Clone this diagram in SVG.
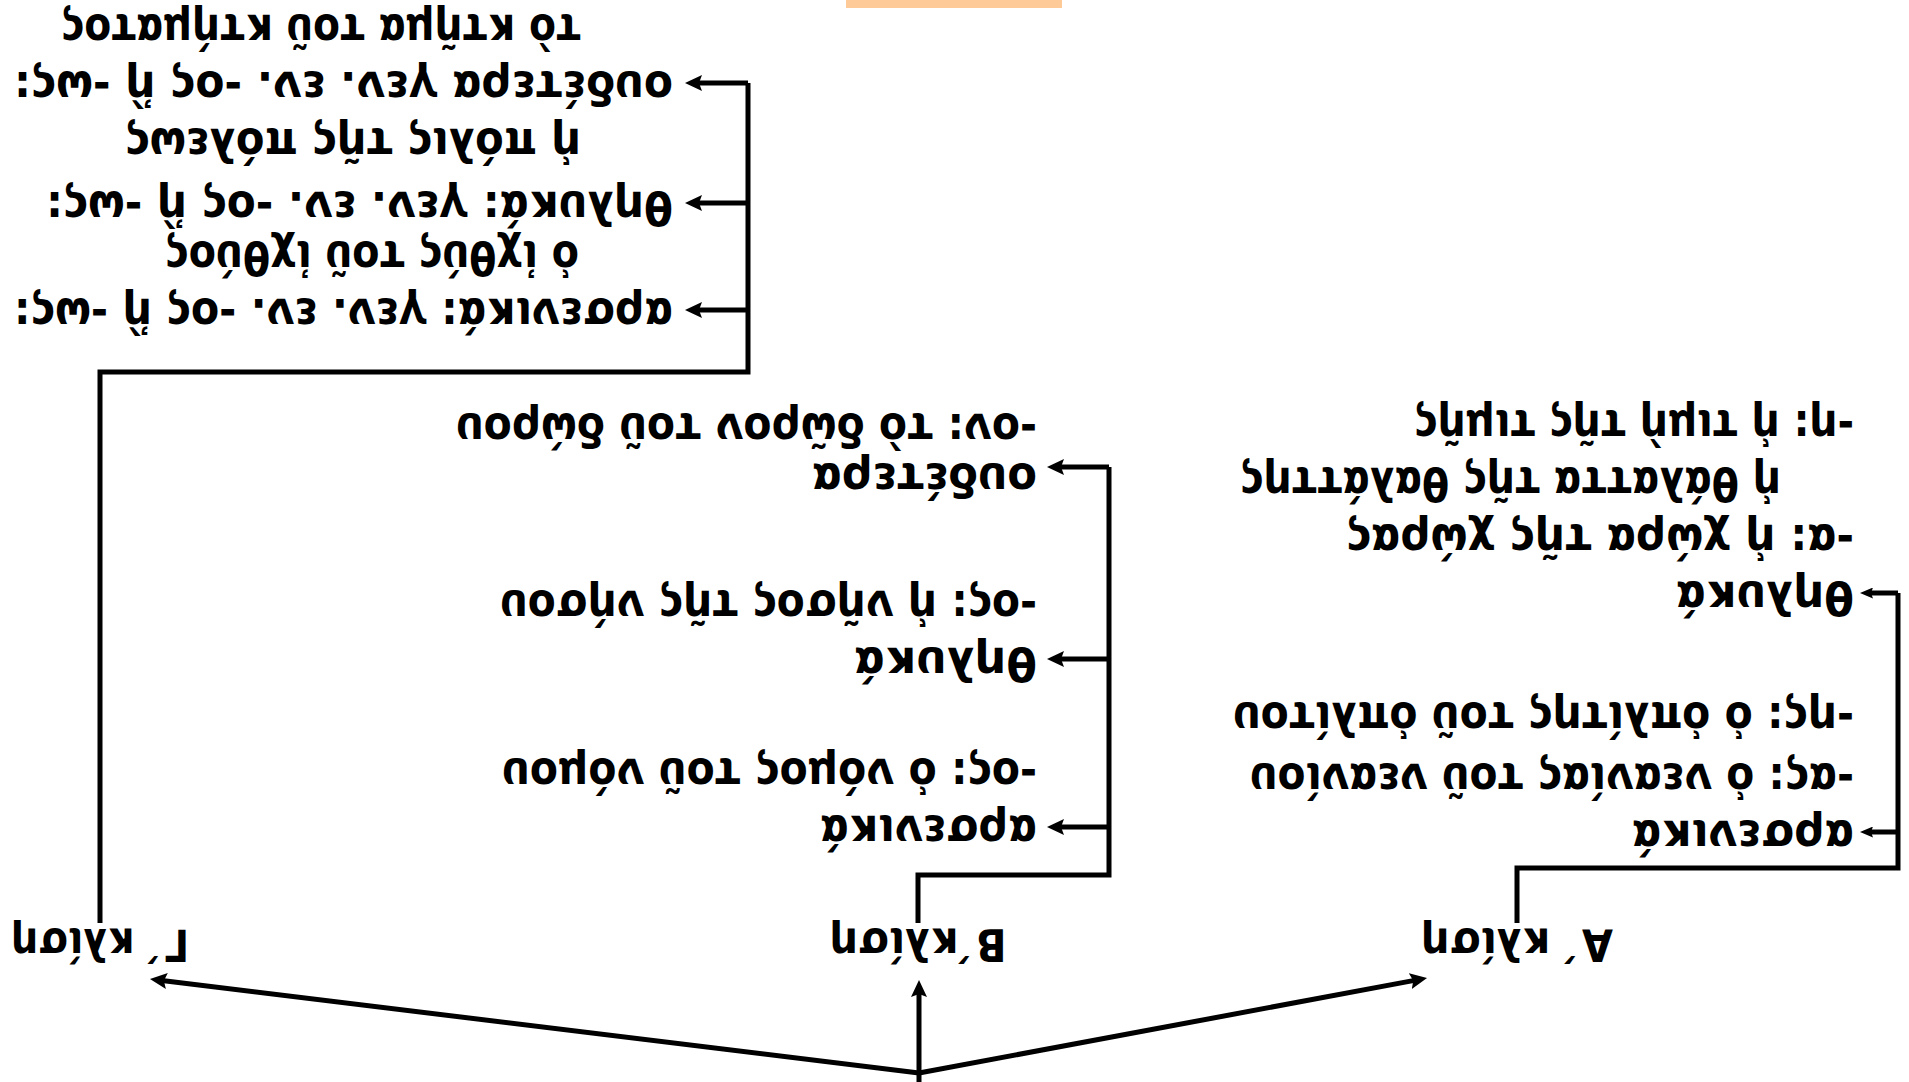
<svg xmlns="http://www.w3.org/2000/svg" width="1909" height="1082" viewBox="0 0 1909 1082">
  <style>
    .t { font-family: 'DejaVu Sans', sans-serif; font-weight: bold; font-size: 47px; fill: #000; }
    .lbl { text-anchor: middle; font-size: 45px; }
    .c { stroke: #000; stroke-width: 5; fill: none; stroke-linejoin: miter; }
  </style>
  <defs>
    <marker id="head" markerUnits="userSpaceOnUse" viewBox="0 0 17 16" markerWidth="17" markerHeight="16" refX="7" refY="8" orient="auto">
      <path d="M0,0 L17,8 L0,16 L3,8 z" fill="#000"/>
    </marker>
    <marker id="headSm" markerUnits="userSpaceOnUse" viewBox="0 0 13 11" markerWidth="13" markerHeight="11" refX="5" refY="5.5" orient="auto">
      <path d="M0,0 L13,5.5 L0,11 L2,5.5 z" fill="#000"/>
    </marker>
  </defs>
  <rect width="1909" height="1082" fill="#fff"/>
  <!-- whole chart is drawn upright, then turned half a revolution -->
  <g transform="rotate(180 954.5 541)">
    <g id="root">
      <rect x="847" y="1074" width="216" height="10" fill="#FECA98"/>
    </g>

    <g id="connectors">
      <!-- from the root to the three declensions -->
      <line class="c" x1="990" y1="9" x2="491.8" y2="102.1" marker-end="url(#head)"/>
      <line class="c" x1="990" y1="0" x2="990" y2="92" marker-end="url(#head)"/>
      <line class="c" x1="990" y1="9" x2="1749.1" y2="101.8" marker-end="url(#head)"/>
      <!-- first declension -->
      <polyline class="c" points="392,159 392,214 11,214 11,489"/>
      <line class="c" x1="11" y1="250" x2="41" y2="250" marker-end="url(#headSm)"/>
      <line class="c" x1="11" y1="489" x2="41" y2="489" marker-end="url(#headSm)"/>
      <!-- second declension -->
      <polyline class="c" points="991,159 991,207 800,207 800,615"/>
      <line class="c" x1="800" y1="255" x2="852" y2="255" marker-end="url(#head)"/>
      <line class="c" x1="800" y1="423" x2="852" y2="423" marker-end="url(#head)"/>
      <line class="c" x1="800" y1="615" x2="852" y2="615" marker-end="url(#head)"/>
      <!-- third declension -->
      <polyline class="c" points="1809,159 1809,710 1161,710 1161,999"/>
      <line class="c" x1="1161" y1="772" x2="1214" y2="772" marker-end="url(#head)"/>
      <line class="c" x1="1161" y1="879" x2="1214" y2="879" marker-end="url(#head)"/>
      <line class="c" x1="1161" y1="999" x2="1214" y2="999" marker-end="url(#head)"/>
    </g>

    <g id="decl-a">
      <text class="t lbl" x="392" y="153" textLength="192" lengthAdjust="spacingAndGlyphs">Α΄ κλίση</text>
    </g>
    <g id="decl-b">
      <text class="t lbl" x="991" y="153" textLength="177" lengthAdjust="spacingAndGlyphs">Β΄κλίση</text>
    </g>
    <g id="decl-c">
      <text class="t lbl" x="1809" y="153" textLength="178" lengthAdjust="spacingAndGlyphs">Γ΄ κλίση</text>
    </g>

    <g id="a-masc">
      <text class="t" x="55" y="261" textLength="222" lengthAdjust="spacingAndGlyphs">αρσενικά</text>
      <text class="t" x="55" y="318" textLength="604" lengthAdjust="spacingAndGlyphs">-ας: ὁ νεανίας τοῦ νεανίου</text>
      <text class="t" x="55" y="379" textLength="621" lengthAdjust="spacingAndGlyphs">-ης: ὁ ὁπλίτης τοῦ ὁπλίτου</text>
    </g>
    <g id="a-fem">
      <text class="t" x="55" y="500" textLength="178" lengthAdjust="spacingAndGlyphs">θηλυκά</text>
      <text class="t" x="55" y="557" textLength="508" lengthAdjust="spacingAndGlyphs">-α: ἡ χώρα τῆς χώρας</text>
      <text class="t" x="128" y="614" textLength="541" lengthAdjust="spacingAndGlyphs">ἡ θάλαττα τῆς θαλάττης</text>
      <text class="t" x="55" y="671" textLength="440" lengthAdjust="spacingAndGlyphs">-η: ἡ τιμὴ τῆς τιμῆς</text>
    </g>

    <g id="b-masc">
      <text class="t" x="872" y="266" textLength="217" lengthAdjust="spacingAndGlyphs">αρσενικά</text>
      <text class="t" x="872" y="323" textLength="535" lengthAdjust="spacingAndGlyphs">-ος: ὁ νόμος τοῦ νόμου</text>
    </g>
    <g id="b-fem">
      <text class="t" x="872" y="434" textLength="183" lengthAdjust="spacingAndGlyphs">θηλυκά</text>
      <text class="t" x="872" y="491" textLength="537" lengthAdjust="spacingAndGlyphs">-ος: ἡ νῆσος τῆς νήσου</text>
    </g>
    <g id="b-neut">
      <text class="t" x="872" y="618" textLength="225" lengthAdjust="spacingAndGlyphs">ουδέτερα</text>
      <text class="t" x="872" y="668" textLength="581" lengthAdjust="spacingAndGlyphs">-ον: τὸ δῶρον τοῦ δώρου</text>
    </g>

    <g id="c-masc">
      <text class="t" x="1236" y="783" textLength="659" lengthAdjust="spacingAndGlyphs">αρσενικά: γεν. εν. -ος ἢ -ως:</text>
      <text class="t" x="1330" y="840" textLength="414" lengthAdjust="spacingAndGlyphs">ὁ ἰχθύς τοῦ ἰχθύος</text>
    </g>
    <g id="c-fem">
      <text class="t" x="1236" y="890" textLength="627" lengthAdjust="spacingAndGlyphs">θηλυκά: γεν. εν. -ος ἢ -ως:</text>
      <text class="t" x="1328" y="953" textLength="456" lengthAdjust="spacingAndGlyphs">ἡ πόλις τῆς πόλεως</text>
    </g>
    <g id="c-neut">
      <text class="t" x="1236" y="1010" textLength="659" lengthAdjust="spacingAndGlyphs">ουδέτερα γεν. εν. -ος ἢ -ως:</text>
      <text class="t" x="1328" y="1067" textLength="520" lengthAdjust="spacingAndGlyphs">τὸ κτῆμα τοῦ κτήματος</text>
    </g>
  </g>
</svg>
